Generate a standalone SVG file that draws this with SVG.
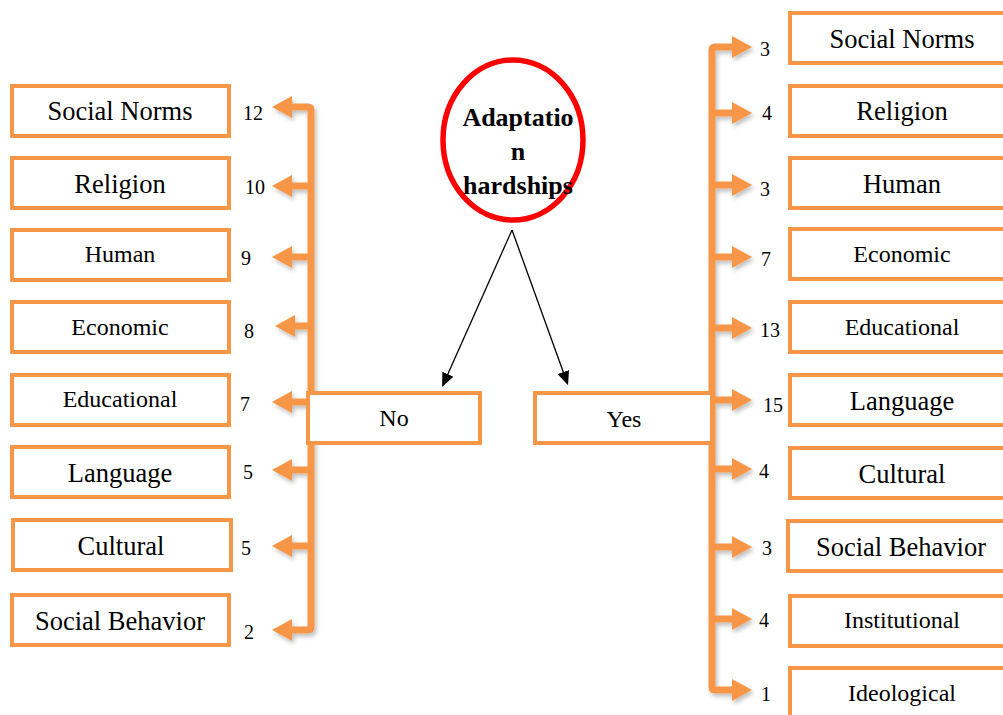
<svg xmlns="http://www.w3.org/2000/svg" width="1003" height="715" viewBox="0 0 1003 715">
<style>
.box{fill:#fff;stroke:#F79646;stroke-width:4}
.t{font-family:"Liberation Serif","Times New Roman",serif;fill:#000;text-anchor:middle}
.big{font-size:26.5px}
.small{font-size:24px}
.num{font-family:"Liberation Serif","Times New Roman",serif;font-size:20px;fill:#000}
.oc{fill:none;stroke:#F79646;stroke-width:7;stroke-linejoin:round}
.bc{fill:none;stroke:#000;stroke-width:1.3}
</style>
<defs>
<marker id="oa" viewBox="0 0 20 22" markerWidth="20" markerHeight="22" refX="0" refY="11" orient="auto-start-reverse" markerUnits="userSpaceOnUse"><path d="M0,0 L20,11 L0,22 z" fill="#F79646"/></marker>
<marker id="ba" viewBox="0 0 14 12" markerWidth="14" markerHeight="12" refX="2" refY="6" orient="auto" markerUnits="userSpaceOnUse"><path d="M0,0 L14,6 L0,12 z" fill="#000"/></marker>
<filter id="sh" x="-20%" y="-20%" width="140%" height="140%"><feDropShadow dx="2" dy="3" stdDeviation="2" flood-color="#000" flood-opacity="0.25"/></filter>
<clipPath id="cc"><rect x="462" y="90" width="112" height="110"/></clipPath>
</defs>
<rect width="1003" height="715" fill="#fff"/>
<g id="connectors">
<g filter="url(#sh)">
<path class="oc" d="M292,107 H308 Q311,107 311,110 V627 Q311,630 308,630 H292" marker-start="url(#oa)" marker-end="url(#oa)"/>
<path class="oc" d="M311,186 H292" marker-end="url(#oa)"/>
<path class="oc" d="M311,257 H292" marker-end="url(#oa)"/>
<path class="oc" d="M311,326 H295" marker-end="url(#oa)"/>
<path class="oc" d="M311,402 H292" marker-end="url(#oa)"/>
<path class="oc" d="M311,470 H292" marker-end="url(#oa)"/>
<path class="oc" d="M311,546 H292" marker-end="url(#oa)"/>
<path class="oc" d="M732,47 H715 Q712,47 712,50 V687 Q712,690 715,690 H732" marker-start="url(#oa)" marker-end="url(#oa)"/>
<path class="oc" d="M712,113 H732" marker-end="url(#oa)"/>
<path class="oc" d="M712,185 H732" marker-end="url(#oa)"/>
<path class="oc" d="M712,257 H732" marker-end="url(#oa)"/>
<path class="oc" d="M712,328 H732" marker-end="url(#oa)"/>
<path class="oc" d="M712,400 H732" marker-end="url(#oa)"/>
<path class="oc" d="M712,469 H732" marker-end="url(#oa)"/>
<path class="oc" d="M712,547 H732" marker-end="url(#oa)"/>
<path class="oc" d="M712,619 H732" marker-end="url(#oa)"/>
</g>
<path class="bc" d="M512,230 L447,376" marker-end="url(#ba)"/>
<path class="bc" d="M512,230 L564,374" marker-end="url(#ba)"/>
<g class="num">
<text x="253" y="120" text-anchor="middle">12</text>
<text x="255" y="194" text-anchor="middle">10</text>
<text x="246" y="265" text-anchor="middle">9</text>
<text x="249" y="338" text-anchor="middle">8</text>
<text x="245" y="411" text-anchor="middle">7</text>
<text x="248" y="479" text-anchor="middle">5</text>
<text x="246" y="555" text-anchor="middle">5</text>
<text x="249" y="639" text-anchor="middle">2</text>
<text x="760" y="56">3</text>
<text x="762" y="120">4</text>
<text x="760" y="196">3</text>
<text x="761" y="266">7</text>
<text x="760" y="337">13</text>
<text x="763" y="412">15</text>
<text x="759" y="478">4</text>
<text x="762" y="555">3</text>
<text x="759" y="627">4</text>
<text x="761" y="701">1</text>
</g>
</g>
<g id="root">
<ellipse cx="513" cy="140" rx="70" ry="80" fill="#fff" stroke="#FF0000" stroke-width="5.5"/>
<g clip-path="url(#cc)" class="t" style="font-weight:bold;font-size:26px">
<text x="518" y="126">Adaptatio</text>
<text x="518" y="160">n</text>
<text x="518" y="194">hardships</text>
</g>
</g>
<g id="no"><rect class="box" x="308" y="393" width="172" height="50"/><text class="t" x="394" y="426" style="font-size:24px">No</text></g>
<g id="yes"><rect class="box" x="535" y="393" width="177" height="50"/><text class="t" x="624" y="427" style="font-size:24px">Yes</text></g>
<g id="l-social-norms"><rect class="box" x="12" y="86" width="217" height="50"/><text class="t big" x="120" y="120">Social Norms</text></g>
<g id="l-religion"><rect class="box" x="12" y="158" width="217" height="50"/><text class="t big" x="120" y="193">Religion</text></g>
<g id="l-human"><rect class="box" x="12" y="230" width="217" height="50"/><text class="t small" x="120" y="262">Human</text></g>
<g id="l-economic"><rect class="box" x="12" y="302" width="217" height="50"/><text class="t small" x="120" y="335">Economic</text></g>
<g id="l-educational"><rect class="box" x="12" y="375" width="217" height="50"/><text class="t small" x="120" y="407">Educational</text></g>
<g id="l-language"><rect class="box" x="12" y="447" width="217" height="50"/><text class="t big" x="120" y="482">Language</text></g>
<g id="l-cultural"><rect class="box" x="13" y="520" width="218" height="50"/><text class="t big" x="121" y="555">Cultural</text></g>
<g id="l-social-behavior"><rect class="box" x="12" y="595" width="217" height="50"/><text class="t big" x="120" y="630">Social Behavior</text></g>
<g id="r-social-norms"><rect class="box" x="790" y="13" width="220" height="50"/><text class="t big" x="902" y="48">Social Norms</text></g>
<g id="r-religion"><rect class="box" x="790" y="86" width="220" height="50"/><text class="t big" x="902" y="120">Religion</text></g>
<g id="r-human"><rect class="box" x="790" y="158" width="220" height="50"/><text class="t big" x="902" y="193">Human</text></g>
<g id="r-economic"><rect class="box" x="790" y="229" width="220" height="50"/><text class="t small" x="902" y="262">Economic</text></g>
<g id="r-educational"><rect class="box" x="790" y="302" width="220" height="50"/><text class="t small" x="902" y="335">Educational</text></g>
<g id="r-language"><rect class="box" x="790" y="375" width="220" height="50"/><text class="t big" x="902" y="410">Language</text></g>
<g id="r-cultural"><rect class="box" x="790" y="448" width="220" height="50"/><text class="t big" x="902" y="483">Cultural</text></g>
<g id="r-social-behavior"><rect class="box" x="788" y="521" width="222" height="50"/><text class="t big" x="901" y="556">Social Behavior</text></g>
<g id="r-institutional"><rect class="box" x="790" y="596" width="220" height="50"/><text class="t small" x="902" y="628">Institutional</text></g>
<g id="r-ideological"><rect class="box" x="790" y="668" width="220" height="60"/><text class="t small" x="902" y="701">Ideological</text></g>
</svg>
